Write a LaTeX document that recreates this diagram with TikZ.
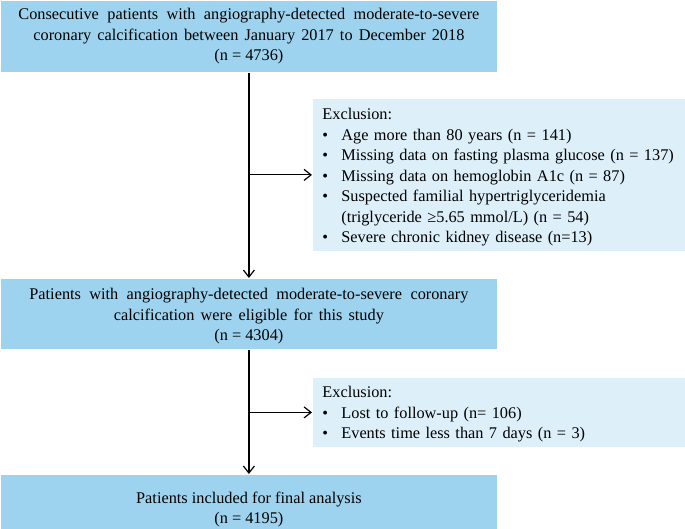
\documentclass[tikz,border=0pt]{standalone}
\usepackage{fontspec}
\setmainfont{Liberation Serif}
\usetikzlibrary{arrows.meta}
\definecolor{boxblue}{HTML}{9DD3EE}
\definecolor{exclblue}{HTML}{DDEFF9}
\newcommand\bul{\makebox[19pt][l]{\textbullet}}
\begin{document}
\begin{tikzpicture}[x=1pt,y=-1pt,
  every node/.style={font=\fontsize{16.3}{20.5}\selectfont},
  mainbox/.style={rectangle, fill=boxblue, draw=white, line width=0.8pt, minimum width=497pt, inner sep=0pt, align=center, anchor=north west},
  exclbox/.style={rectangle, fill=exclblue, draw=white, line width=0.8pt, minimum width=373pt, text width=353pt, inner xsep=10pt, inner ysep=0pt, align=left, anchor=north west},
  arr/.style={line width=1.2pt, -{Straight Barb[length=7pt,width=11pt,line width=1.2pt]}}]
\useasboundingbox (0,0) rectangle (685,529);
\node[mainbox, minimum height=72pt] (b1) at (0,0) {\makebox[461pt][s]{Consecutive patients with angiography-detected moderate-to-severe}\\\makebox[431pt][s]{coronary calcification between January 2017 to December 2018}\\(n = 4736)};
\node[exclbox, minimum height=153pt] (e1) at (312,98) {\rule{0pt}{16pt}Exclusion:\\\bul Age more than 80 years (n = 141)\\\bul Missing data on fasting plasma glucose (n = 137)\\\bul Missing data on hemoglobin A1c (n = 87)\\\bul Suspected familial hypertriglyceridemia\\\hspace*{19pt}(triglyceride ≥5.65 mmol/L) (n = 54)\\\bul Severe chronic kidney disease (n=13)};
\node[mainbox, minimum height=71pt] (b2) at (0,278) {\rule{0pt}{16pt}\makebox[439pt][s]{Patients with angiography-detected moderate-to-severe coronary}\\\makebox[270pt][s]{calcification were eligible for this study}\\(n = 4304)};
\node[exclbox, minimum height=70pt] (e2) at (312,377) {\rule{0pt}{15pt}Exclusion:\\\bul Lost to follow-up (n= 106)\\\bul Events time less than 7 days (n = 3)};
\node[mainbox, minimum height=55pt] (b3) at (0,474) {\rule{0pt}{27pt}Patients included for final analysis\\(n = 4195)};
\draw[arr] (b1.south) -- (b2.north);
\draw[arr] (b1.south |- e1.west) -- (e1.west);
\draw[arr] (b2.south) -- (b3.north);
\draw[arr] (b2.south |- e2.west) -- (e2.west);
\end{tikzpicture}
\end{document}
